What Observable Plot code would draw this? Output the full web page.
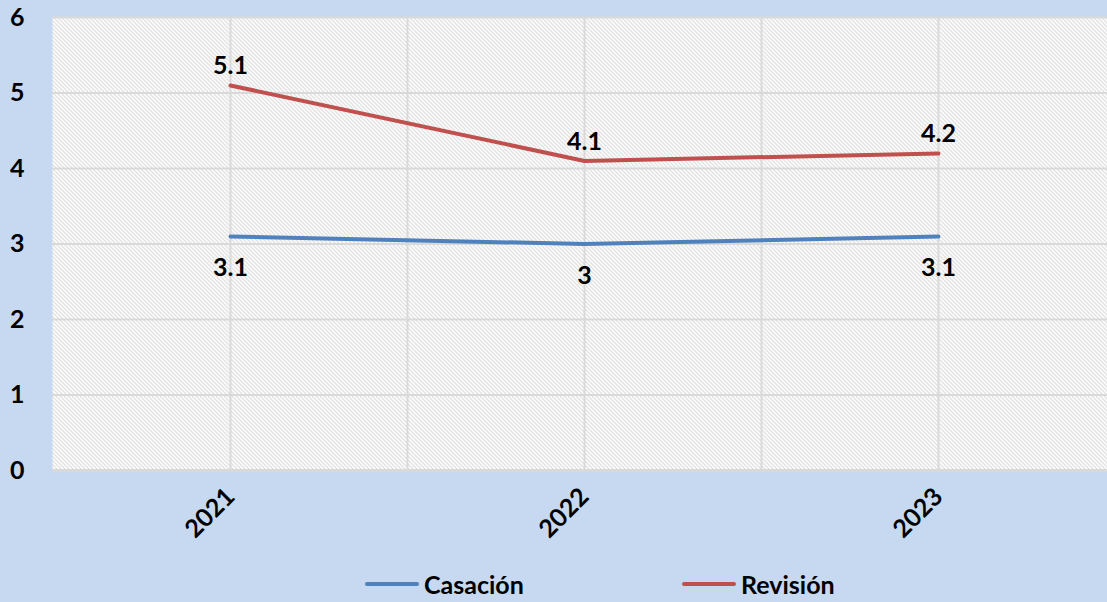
<!DOCTYPE html>
<html><head><meta charset="utf-8">
<script src="https://cdn.jsdelivr.net/npm/d3@7"></script>
<script src="https://cdn.jsdelivr.net/npm/@observablehq/plot@0.6"></script>
<style>
html,body{margin:0;padding:0;background:#c6d9f0;width:1107px;height:602px;overflow:hidden;font-family:Lato,"Open Sans",sans-serif;}
#chart{position:absolute;left:0;top:0;}
#legend{position:absolute;left:0;top:565px;width:1107px;height:37px;font-weight:700;font-size:25px;color:#000;}
.item{position:absolute;top:4px;display:flex;align-items:center;}
.sw{width:54px;height:4px;border-radius:2px;margin-right:5px;}
</style></head>
<body>
<div id="chart"></div>
<div id="legend"></div>
<script>
const years = [2021, 2022, 2023];
const casacion = [3.1, 3.0, 3.1];
const revision = [5.1, 4.1, 4.2];
const yTicks = [0, 1, 2, 3, 4, 5, 6];
const seriesNames = ["Casación", "Revisión"];
const seriesColors = ["#4f81bd", "#c0504d"];

const data = [
  ...years.map((y, i) => ({year: y, value: casacion[i], series: seriesNames[0]})),
  ...years.map((y, i) => ({year: y, value: revision[i], series: seriesNames[1]}))
];
const gridX = [2021, 2021.5, 2022, 2022.5, 2023];

const plot = Plot.plot({
  width: 1107, height: 565,
  marginLeft: 52, marginRight: 0, marginTop: 17, marginBottom: 95,
  style: {background: "transparent", fontFamily: "Lato, 'Open Sans', sans-serif", fontSize: "25px", fontWeight: 700, color: "#000", overflow: "visible"},
  x: {type: "linear", domain: [2020.5, 2023.5], range: [53, 1115], ticks: years, tickFormat: d => String(d), tickRotate: -45, tickSize: 0, tickPadding: 22, label: null},
  y: {domain: [0, 6], ticks: yTicks, tickFormat: d => String(d), tickSize: 0, tickPadding: 28, label: null},
  color: {domain: seriesNames, range: seriesColors},
  marks: [
    Plot.frame({fill: "url(#hatch)", stroke: null}),
    Plot.ruleX(gridX, {stroke: "#d9d9d9", strokeWidth: 2}),
    Plot.ruleY(yTicks.filter(d => d > 0), {stroke: "#d9d9d9", strokeWidth: 2}),
    Plot.ruleY([0], {stroke: "#d9d9d9", strokeWidth: 3}),
    Plot.line(data, {x: "year", y: "value", z: "series", stroke: "series", strokeWidth: 4}),
    Plot.text(data.filter(d => d.series === seriesNames[1]), {x: "year", y: "value", text: d => String(d.value), dy: -19, fill: "#000", fontSize: 25, fontWeight: 700}),
    Plot.text(data.filter(d => d.series === seriesNames[0]), {x: "year", y: "value", text: d => String(d.value), dy: 32, fill: "#000", fontSize: 25, fontWeight: 700})
  ]
});

const ns = "http://www.w3.org/2000/svg";
const defs = document.createElementNS(ns, "defs");
defs.innerHTML = `<pattern id="hatch" width="4" height="4" patternUnits="userSpaceOnUse" shape-rendering="crispEdges">
  <rect width="4" height="4" fill="#ffffff"/>
  <rect x="0" y="0" width="1" height="1" fill="#c4c4c4"/>
  <rect x="1" y="1" width="1" height="1" fill="#c4c4c4"/>
  <rect x="2" y="2" width="1" height="1" fill="#c4c4c4"/>
  <rect x="3" y="3" width="1" height="1" fill="#c4c4c4"/>
</pattern>`;
plot.insertBefore(defs, plot.firstChild);
document.getElementById("chart").appendChild(plot);

const legend = document.getElementById("legend");
const lx = [365, 682];
seriesNames.forEach((n, i) => {
  const it = document.createElement("div");
  it.className = "item";
  it.style.left = lx[i] + "px";
  it.innerHTML = `<div class="sw" style="background:${seriesColors[i]}"></div><span>${n}</span>`;
  legend.appendChild(it);
});
</script>
</body></html>
